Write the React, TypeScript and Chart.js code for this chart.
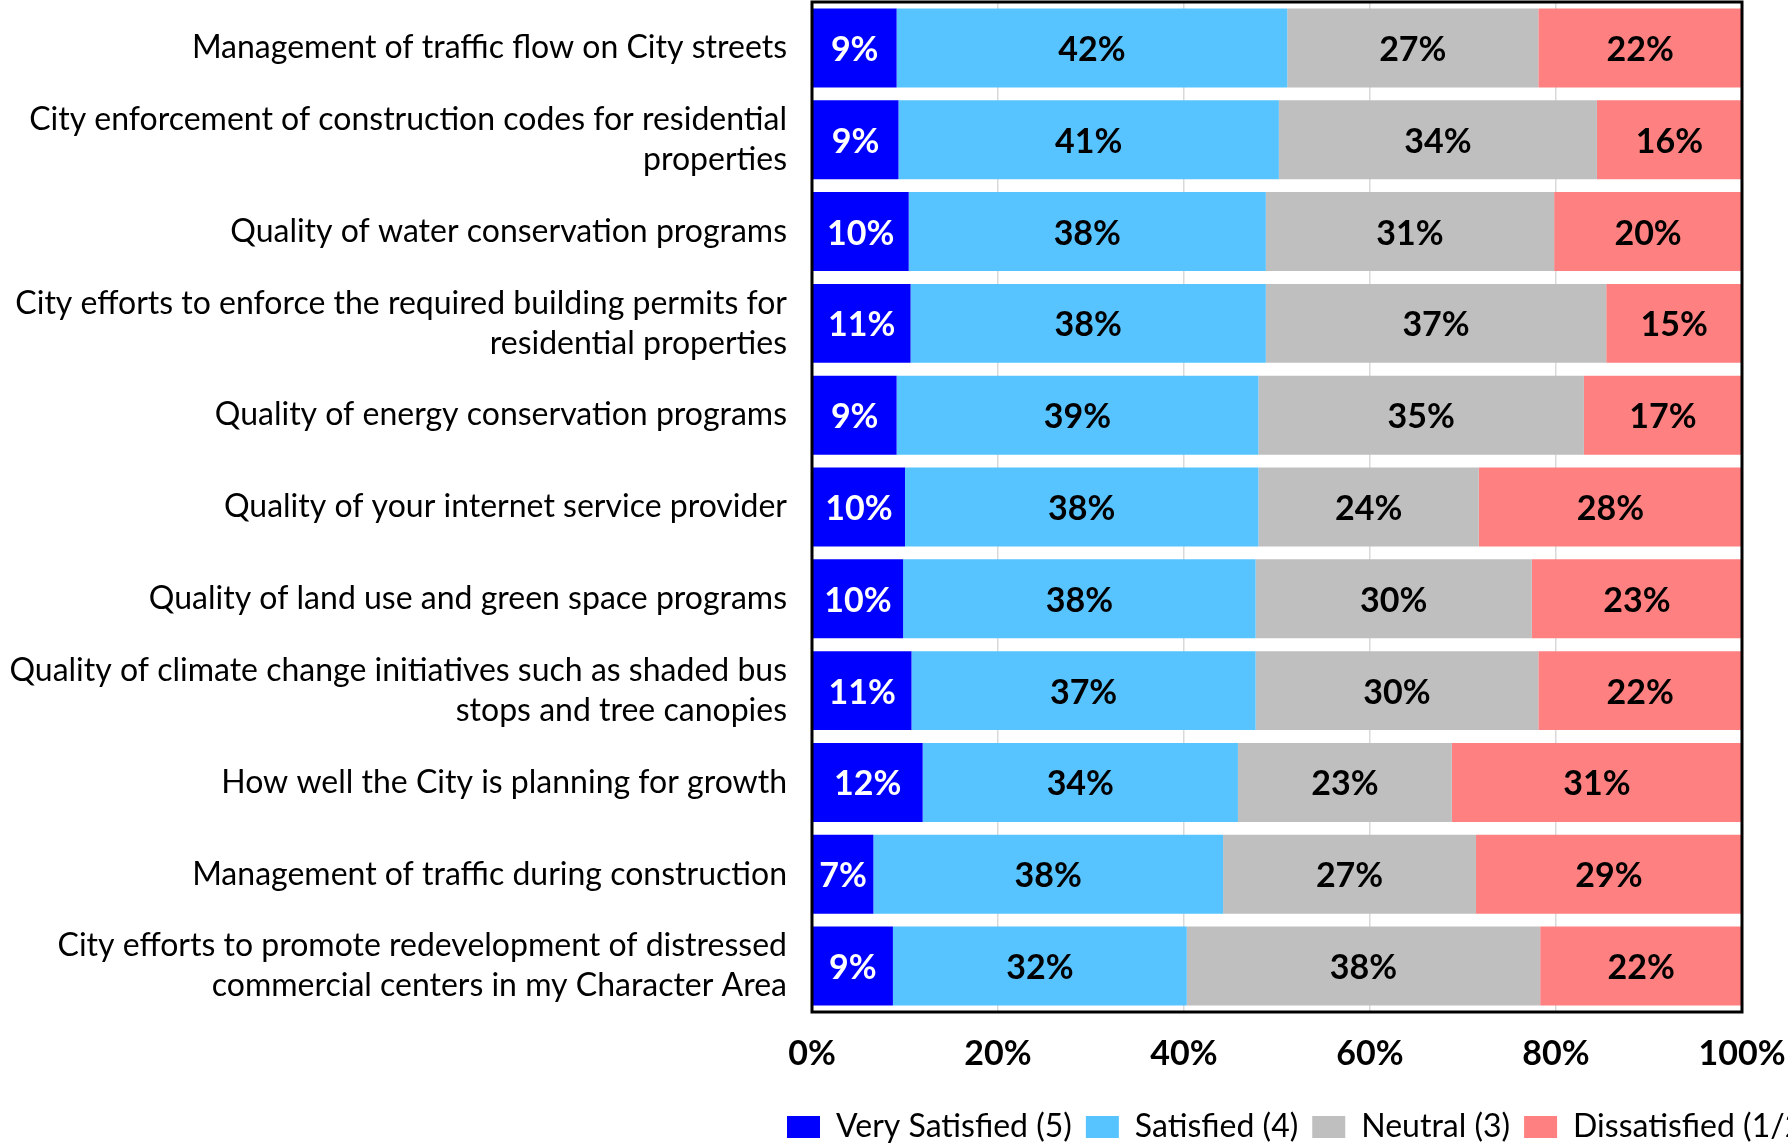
import React, { useEffect, useRef } from "react";
import { Chart, registerables } from "chart.js";

Chart.register(...registerables);

const categories: (string | string[])[] = [
  "Management of traffic flow on City streets",
  ["City enforcement of construction codes for residential", "properties"],
  "Quality of water conservation programs",
  ["City efforts to enforce the required building permits for", "residential properties"],
  "Quality of energy conservation programs",
  "Quality of your internet service provider",
  "Quality of land use and green space programs",
  ["Quality of climate change initiatives such as shaded bus", "stops and tree canopies"],
  "How well the City is planning for growth",
  "Management of traffic during construction",
  ["City efforts to promote redevelopment of distressed", "commercial centers in my Character Area"],
];

const seriesNames = ["Very Satisfied (5)", "Satisfied (4)", "Neutral (3)", "Dissatisfied (1/2)"];

const verySatisfied = [9.1, 9.3, 10.4, 10.6, 9.1, 10.0, 9.8, 10.7, 11.9, 6.6, 8.7];
const satisfied = [42.0, 40.9, 38.4, 38.2, 38.9, 38.0, 37.9, 37.0, 33.9, 37.6, 31.6];
const neutral = [27.0, 34.2, 31.0, 36.6, 35.0, 23.7, 29.7, 30.4, 23.0, 27.2, 38.0];
const dissatisfied = [21.9, 15.6, 20.2, 14.6, 17.0, 28.3, 22.6, 21.9, 31.2, 28.6, 21.7];

const xTicks = [0, 20, 40, 60, 80, 100];

const colors = ["#0000FF", "#57C4FF", "#BFBFBF", "#FF8080"];
const labelColors = ["#FFFFFF", "#000000", "#000000", "#000000"];

const FONT = "Lato, 'Liberation Sans', sans-serif";

const W = 1788;
const H = 1145;
const PLOT_LEFT = 812;
const PLOT_RIGHT = 1742;
const PLOT_TOP = 2;
const PLOT_BOTTOM = 1012;
const X_TICK_FONT = 34;
const X_TICK_PAD = 22;
const X_AXIS_H = X_TICK_PAD + X_TICK_FONT * 1.2;
const LEGEND_PAD = 14;
const LEGEND_FONT = 32;
const LEGEND_BOX_H = 22;
const LEGEND_H = Math.max(LEGEND_FONT, LEGEND_BOX_H) + LEGEND_PAD + 10;

export default function App() {
  const ref = useRef<HTMLCanvasElement | null>(null);

  useEffect(() => {
    if (!ref.current) return;
    const seriesData = [verySatisfied, satisfied, neutral, dissatisfied];

    const frameAndLabels = {
      id: "frameAndLabels",
      afterLayout(chart: any) {
        const lg = chart.legend;
        if (!lg) return;
        const dx = 787 - (lg.left + LEGEND_PAD);
        lg.left += dx;
        lg.right += dx;
        const itemH = Math.max(LEGEND_FONT, LEGEND_BOX_H);
        const top = 1127 - LEGEND_PAD - itemH / 2;
        const dy = top - lg.top;
        lg.top += dy;
        lg.bottom += dy;
      },
      afterDatasetsDraw(chart: any) {
        const ctx = chart.ctx;
        ctx.save();
        ctx.font = `bold 34px ${FONT}`;
        ctx.textAlign = "center";
        ctx.textBaseline = "middle";
        chart.data.datasets.forEach((ds: any, i: number) => {
          const meta = chart.getDatasetMeta(i);
          meta.data.forEach((bar: any, j: number) => {
            const v = ds.data[j];
            if (!v) return;
            const x = (bar.x + bar.base) / 2;
            ctx.fillStyle = labelColors[i];
            ctx.fillText(Math.round(v) + "%", x, bar.y + 2);
          });
        });
        const a = chart.chartArea;
        ctx.strokeStyle = "#000000";
        ctx.lineWidth = 3;
        ctx.strokeRect(a.left, a.top, a.right - a.left, a.bottom - a.top);
        ctx.restore();
      },
    };

    const chart = new Chart(ref.current, {
      type: "bar",
      data: {
        labels: categories as any,
        datasets: seriesData.map((d, i) => ({
          label: seriesNames[i],
          data: d,
          backgroundColor: colors[i],
          borderWidth: 0,
          barPercentage: 0.86,
          categoryPercentage: 1,
        })),
      },
      options: {
        indexAxis: "y",
        responsive: false,
        maintainAspectRatio: false,
        animation: false,
        layout: {
          padding: {
            top: PLOT_TOP,
            right: W - PLOT_RIGHT,
            bottom: H - PLOT_BOTTOM - X_AXIS_H - LEGEND_H,
            left: 0,
          },
        },
        scales: {
          x: {
            stacked: true,
            min: 0,
            max: 100,
            afterBuildTicks(scale: any) {
              scale.ticks = xTicks.map((v) => ({ value: v }));
            },
            afterFit(scale: any) {
              scale.height = X_AXIS_H;
              scale.paddingLeft = 0;
              scale.paddingRight = 0;
            },
            ticks: {
              color: "#000000",
              padding: X_TICK_PAD,
              font: { family: FONT, size: X_TICK_FONT, weight: "bold", lineHeight: 1.2 },
              callback: (v: any) => v + "%",
              maxRotation: 0,
            },
            grid: { color: "#D9D9D9", lineWidth: 1.5, drawTicks: false },
            border: { display: false },
          },
          y: {
            stacked: true,
            afterFit(scale: any) {
              scale.width = PLOT_LEFT;
              scale.paddingTop = 0;
              scale.paddingBottom = 0;
            },
            ticks: {
              color: "#000000",
              padding: 25,
              font: { family: FONT, size: 32, lineHeight: 1.25 },
            },
            grid: { display: false, drawTicks: false },
            border: { display: false },
          },
        },
        plugins: {
          legend: {
            position: "bottom",
            align: "start",
            labels: {
              boxWidth: 33,
              boxHeight: LEGEND_BOX_H,
              padding: LEGEND_PAD,
              color: "#000000",
              font: { family: FONT, size: LEGEND_FONT },
            },
          },
          tooltip: { enabled: false },
        },
      },
      plugins: [frameAndLabels],
    });
    return () => chart.destroy();
  }, []);

  return (
    <div style={{ position: "fixed", left: 0, top: 0, width: W, height: H, overflow: "hidden", background: "#fff" }}>
      <canvas ref={ref} width={W} height={H} style={{ width: W, height: H, display: "block" }} />
    </div>
  );
}
